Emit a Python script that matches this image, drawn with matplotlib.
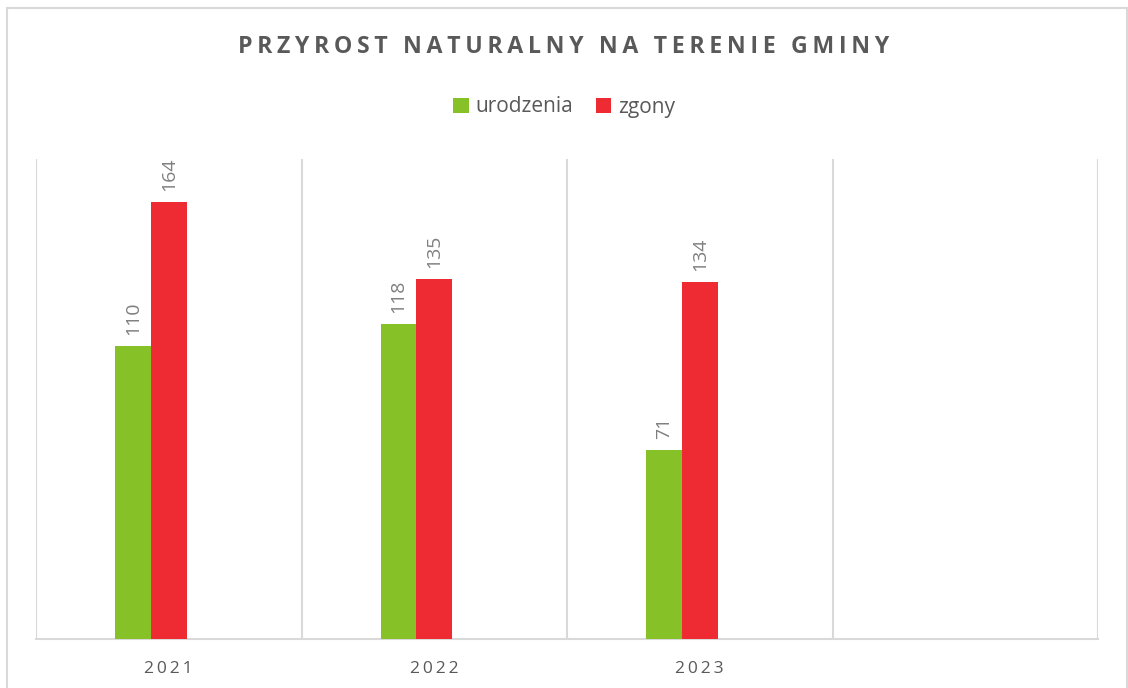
import matplotlib

matplotlib.use("Agg")
import matplotlib.pyplot as plt  # noqa: E402
import numpy as np  # noqa: E402
from matplotlib.patches import Rectangle  # noqa: E402

YEARS = ["2021", "2022", "2023", ""]
BIRTHS = [110, 118, 71]
DEATHS = [164, 135, 134]
SERIES = ["urodzenia", "zgony"]
TITLE = "PRZYROST NATURALNY NA TERENIE GMINY"

GREEN = "#86C127"
RED = "#EE2A33"
GRID = "#D9D9D9"
TEXT = "#595959"
LABEL = "#7F7F7F"

plt.rcParams["font.family"] = ["Open Sans", "DejaVu Sans"]


def spaced(s, gap="\u200a"):
    return gap.join(s)


W, H = 1128, 688
fig = plt.figure(figsize=(W / 100, H / 100), dpi=100)
fig.patch.set_facecolor("white")

# outer chart border
fig.add_artist(Rectangle((7 / W, -0.1), 1120 / W, 1.1 - 8 / H,
                         transform=fig.transFigure, fill=False,
                         edgecolor="#D9D9D9", linewidth=1.5))

ax = fig.add_axes([36 / W, 1 - 639 / H, (1098 - 36) / W, (639 - 159) / H])
x = np.arange(len(YEARS))
bw = 0.134
# Excel keeps a slot for a third (empty) series: green left, red on the centre
xg = x[:3] - bw
xr = x[:3]
ax.bar(xg, BIRTHS, bw, color=GREEN, label=SERIES[0], zorder=3)
ax.bar(xr, DEATHS, bw, color=RED, label=SERIES[1], zorder=3)

for xs, vals in ((xg, BIRTHS), (xr, DEATHS)):
    for xi, v in zip(xs, vals):
        ax.annotate(str(v), (xi, v), xytext=(0, 8), textcoords="offset points",
                    rotation=90, ha="center", va="bottom",
                    fontsize=14, color=LABEL)

ax.set_xlim(-0.5, 3.5)
ax.set_ylim(0, 180)
for b in np.arange(-0.5, 4.0, 1.0):
    ax.axvline(b, color=GRID, linewidth=1.5, zorder=1)
for s in ["top", "right", "left"]:
    ax.spines[s].set_visible(False)
ax.spines["bottom"].set_color(GRID)
ax.spines["bottom"].set_linewidth(1.5)
ax.set_yticks([])
ax.set_xticks(x)
ax.set_xticklabels([spaced(y, "\u2009") for y in YEARS], fontsize=12.5, color=TEXT)
ax.tick_params(axis="x", length=0, pad=16)

fig.text(0.5, 1 - 47 / H, spaced(TITLE, "\u2009"), ha="center", va="center",
         fontsize=16.7, fontweight="bold", color=TEXT)

fig.legend(loc="center", bbox_to_anchor=(0.5, 1 - 107 / H), ncol=2, frameon=False,
           fontsize=15, labelcolor=TEXT, handlelength=0.75, handleheight=0.75,
           handletextpad=0.3, columnspacing=1.1)

fig.savefig("out.png", dpi=100)
